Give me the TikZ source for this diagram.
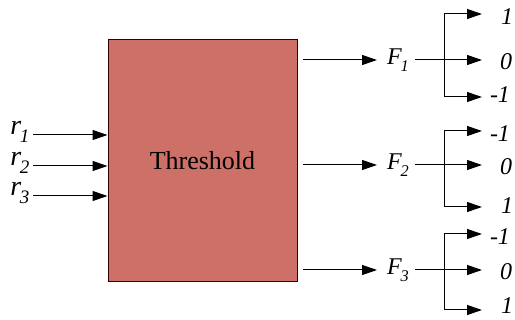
\documentclass[tikz,border=0pt]{standalone}
\usepackage{fontspec}
\setmainfont{Liberation Serif}[ItalicFont=Liberation Serif Italic]
\usetikzlibrary{arrows.meta}
\newcommand{\subl}[3]{{\fontsize{#3}{#3}\selectfont\itshape #1\kern-0.05em\raisebox{-0.3em}{\fontsize{0.68\dimexpr#3pt\relax}{1em}\selectfont #2}}}
\begin{document}
\begin{tikzpicture}[x=1pt,y=-1pt,
  conn/.style={line width=1pt,draw=black},
  arr/.style={conn,-{Triangle[length=15pt,width=10pt]}},
  outl/.style={inner sep=0pt,font=\fontsize{24}{24}\selectfont\itshape},
  blk/.style={draw=black!80!red,line width=1pt,fill=boxfill,minimum width=189pt,minimum height=242pt,inner sep=0pt,font=\fontsize{26}{26}\selectfont}]
\definecolor{boxfill}{RGB}{204,112,104}
\useasboundingbox (0,0) rectangle (515,320);
\node[blk] (box) at (202.5,160.5) {Threshold};
% inputs
\node[inner sep=0pt] (r1) at (20,132) {\subl{r}{1}{28}};
\node[inner sep=0pt] (r2) at (20,163) {\subl{r}{2}{28}};
\node[inner sep=0pt] (r3) at (20,193) {\subl{r}{3}{28}};
\coordinate (i1) at (33,135); \coordinate (i2) at (33,166); \coordinate (i3) at (33,196);
\draw[arr] (i1) -- (i1 -| box.west);
\draw[arr] (i2) -- (i2 -| box.west);
\draw[arr] (i3) -- (i3 -| box.west);
% outputs
\foreach \n/\y/\t/\m/\b/\la/\lb/\lc/\xa/\xc/\dc in {1/60/14/60/97/1/0/-1/507/500/-2, 2/165/131/165/207/-1/0/1/500/507/-1, 3/270/234/270/310/-1/0/1/500/507/-4}{
  \node[inner sep=0pt] (F\n) at (398,\y) {\subl{F}{\n}{24}};
  \coordinate (s\n) at (303,\y);
  \draw[arr] (s\n) -- (377,\y);
  \coordinate (j\n) at (444,\y);
  \coordinate (jt\n) at (444,\t);
  \coordinate (jb\n) at (444,\b);
  \node[outl] (oa\n) at (\xa,\t+3) {\la};
  \node[outl] (ob\n) at (506,\m+2) {\lb};
  \node[outl] (oc\n) at (\xc,\b+\dc) {\lc};
  \draw[conn] (F\n.east) ++(6,0) -- (j\n);
  \draw[conn] (jt\n) -- (jb\n);
  \draw[arr] (jt\n) -- (482,\t);
  \draw[arr] (j\n) -- (482,\m);
  \draw[arr] (jb\n) -- (482,\b);
}
\end{tikzpicture}
\end{document}
